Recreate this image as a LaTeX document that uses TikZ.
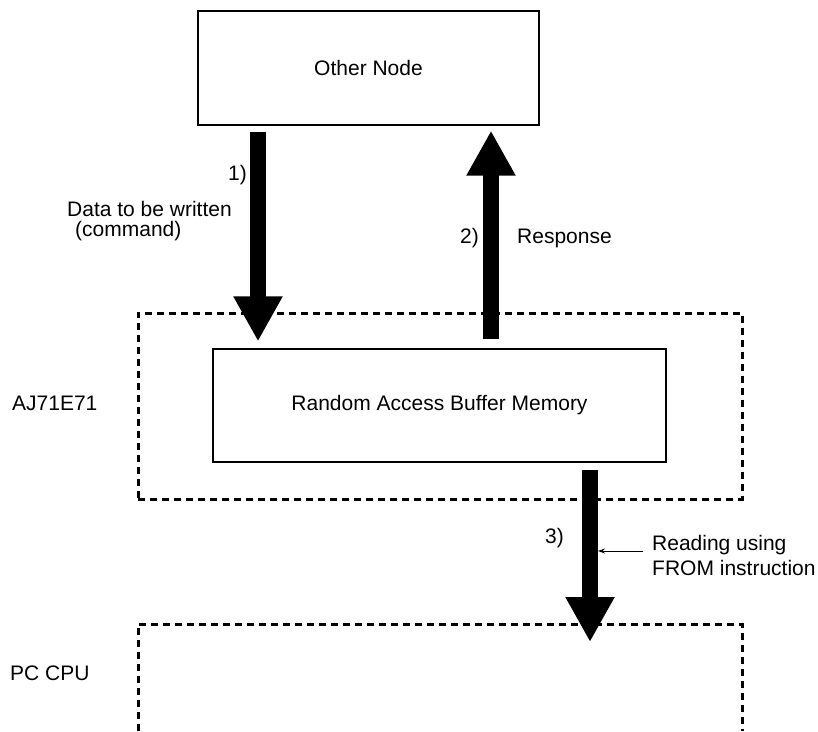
\documentclass[tikz,border=0pt]{standalone}
\usepackage{fontspec}
\setmainfont{Liberation Sans}
\usetikzlibrary{arrows.meta}
\begin{document}
\begin{tikzpicture}[x=1pt,y=-1pt,
  txt/.style={font=\fontsize{21}{25}\selectfont},
  box/.style={draw,line width=1.2pt,inner sep=0pt,txt},
  dbox/.style={draw,line width=3pt,dash pattern=on 7pt off 5pt,inner sep=0pt},
  lbl/.style={txt,inner sep=0pt,anchor=west},
  fat/.style={line width=16pt,-{Triangle[width=46pt,length=45pt]}},
  lead/.style={line width=1pt,-{Stealth[length=7pt,width=5pt]}}]
\useasboundingbox (0,0) rectangle (818,731);
% boxes
\node[box,minimum width=341pt,minimum height=114pt] (on) at (368.5,68) {Other Node};
\node[dbox,minimum width=604pt,minimum height=186pt] (aj) at (440,406) {};
\node[box,fill=white,minimum width=453pt,minimum height=113pt] (rabm) at (439.5,405.5) {Random Access Buffer Memory};
% PC CPU open box
\coordinate (pcbl) at (138,731);
\coordinate (pctl) at (138,624);
\coordinate (pctr) at (742,624);
\coordinate (pcbr) at (742,731);
\draw[line width=3pt,dash pattern=on 7pt off 5pt] (pcbl) -- (pctl) -- (pctr) -- (pcbr);
% arrow x positions
\coordinate (a1x) at (258,0);
\coordinate (a2x) at (491,0);
\coordinate (a3x) at (590,0);
\coordinate (a3r) at (598,0);
% fat arrows
\draw[fat] ([yshift=-6pt]on.south -| a1x) -- ([yshift=7pt]rabm.north -| a1x);
\draw[fat] ([yshift=9pt]rabm.north -| a2x) -- ([yshift=-5pt]on.south -| a2x);
\draw[fat] ([yshift=-7pt]rabm.south -| a3x) -- ([yshift=-18pt]pctl -| a3x);
% leader
\coordinate (ld) at (643,551);
\draw[lead] (ld) -- (ld -| a3r);
% labels
\node[lbl] (l1) at (228,175) {1)};
\node[lbl] (d1) at (67,209) {Data to be written};
\node[lbl] (d2) at (75,231) {(command)};
\node[lbl] (l2) at (460,238) {2)};
\node[lbl] (resp) at (517,238) {Response};
\node[lbl] (ajl) at (12,403) {AJ71E71};
\node[lbl] (l3) at (545,538) {3)};
\node[lbl] (r1) at (652,545) {Reading using};
\node[lbl] (r2) at (652,568) {FROM instruction};
\node[lbl] (pcl) at (10,673) {PC CPU};
\end{tikzpicture}
\end{document}
